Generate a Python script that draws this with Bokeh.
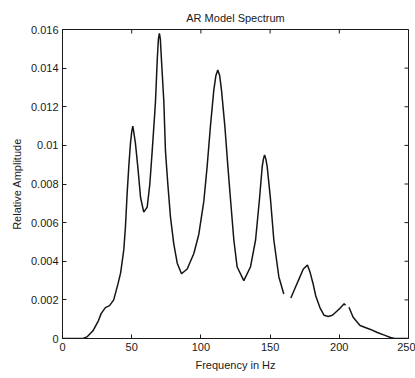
import numpy as np
from bokeh.plotting import figure
from bokeh.models import FixedTicker, Range1d
from bokeh.embed import file_html
from bokeh.resources import INLINE

# Frequency (Hz) and relative amplitude; NaN = break in the trace
freq = [0, 10, 15, 18, 22, 26, 28, 31, 34, 37, 40, 42, 44.3, 45.5, 46.7, 47.9, 49.1, 50.0,
        50.8, 51.7, 52.7, 54.4, 56.4, 58.7, 61.2, 63.1, 64.8, 66.5, 67.2, 68.5, 69.3, 70.0,
        70.7, 71.6, 73.2, 74.4, 76.1, 78.0, 80.4, 82.9, 86.0, 90.1, 94.9, 98.5, 102.1, 104.5,
        106.9, 109.3, 110.8, 112.2, 113.6, 114.9, 117.3, 119.5, 121.4, 123.8, 126.2, 131.0,
        135.8, 139.5, 142.3, 144.3, 145.2, 146.0, 146.9, 147.9, 150.3, 152.7, 156.3, 159.9,
        162.0, 165.0, 168.0, 171.0, 174.0, 177.0, 179.0, 181.0, 183.0, 186.0, 189.0, 192.0,
        195.0, 198.0, 201.0, 203.5, 204.5, 205.5, 207.0, 210.0, 215.0, 222.5, 227.5, 233.0,
        237.0, 240.0, 250.0]
amp = [0, 0, 0, 0.0001, 0.0004, 0.00093, 0.0013, 0.0016, 0.0017, 0.002, 0.0028, 0.0034,
       0.0046, 0.0058, 0.0075, 0.0089, 0.0101, 0.0107, 0.0110, 0.0106, 0.0101, 0.0089,
       0.0073, 0.00654, 0.0068, 0.008, 0.0097, 0.0115, 0.0123, 0.0145, 0.0155, 0.0158,
       0.0155, 0.0143, 0.0123, 0.0097, 0.008, 0.0063, 0.0049, 0.0039, 0.00335, 0.0036,
       0.0044, 0.0054, 0.0071, 0.0089, 0.0110, 0.01285, 0.0136, 0.0139, 0.0136, 0.01285,
       0.0110, 0.0089, 0.0072, 0.0051, 0.0037, 0.0030, 0.0037, 0.0051, 0.0072, 0.0089,
       0.0093, 0.0095, 0.0093, 0.0089, 0.0072, 0.0051, 0.0032, 0.0023,
       np.nan, 0.0021, 0.0026, 0.0031, 0.0036, 0.0038, 0.0034, 0.00285, 0.0022, 0.0016,
       0.0012, 0.00114, 0.0012, 0.0014, 0.0016, 0.0018, 0.00172, np.nan, 0.00162, 0.0011,
       0.00067, 0.00047, 0.00031, 0.00016, 0.00005, 0, 0]

x_ticks = [0, 50, 100, 150, 200, 250]
y_ticks = [0, 0.002, 0.004, 0.006, 0.008, 0.01, 0.012, 0.014, 0.016]
y_tick_labels = ["0", "0.002", "0.004", "0.006", "0.008", "0.01", "0.012", "0.014", "0.016"]

FONT = "Liberation Sans"
INK = "#1a1a1a"

x_lo, x_hi = 0, 250
y_lo, y_hi = 0, 0.016

p = figure(width=415, height=378, output_backend="svg", toolbar_location=None,
           x_range=Range1d(x_lo, x_hi), y_range=Range1d(y_lo, y_hi),
           title="AR Model Spectrum",
           min_border_left=62, min_border_right=7, min_border_top=29, min_border_bottom=40)

p.title.align = "center"
p.title.text_font = FONT
p.title.text_font_size = "11px"
p.title.text_font_style = "normal"
p.title.text_color = INK
p.title.offset = 0
p.title.standoff = 12

p.line(freq, amp, line_color="#151515", line_width=1.5)

# Mirror tick marks on top and right edges (MATLAB box style), clipped to the frame
p.scatter(x_ticks, [y_hi] * len(x_ticks), marker="dash", angle=np.pi / 2, size=8,
          line_color=INK, line_width=1)
p.scatter([x_hi] * len(y_ticks), y_ticks, marker="dash", size=8,
          line_color=INK, line_width=1)

p.xgrid.visible = False
p.ygrid.visible = False
p.background_fill_color = "white"
p.border_fill_color = "white"
p.outline_line_color = INK
p.outline_line_width = 1

p.xaxis.ticker = FixedTicker(ticks=x_ticks)
p.yaxis.ticker = FixedTicker(ticks=y_ticks)
p.yaxis.major_label_overrides = dict(zip(y_ticks, y_tick_labels))
p.xaxis.axis_label = "Frequency in Hz"
p.yaxis.axis_label = "Relative Amplitude"

for ax in (p.xaxis[0], p.yaxis[0]):
    ax.major_tick_in = 4
    ax.major_tick_out = 0
    ax.minor_tick_in = 0
    ax.minor_tick_out = 0
    ax.axis_line_color = INK
    ax.major_tick_line_color = INK
    ax.major_label_text_font = FONT
    ax.major_label_text_font_size = "11px"
    ax.major_label_text_color = INK
    ax.axis_label_text_font = FONT
    ax.axis_label_text_font_size = "11px"
    ax.axis_label_text_font_style = "normal"
    ax.axis_label_text_color = INK
    ax.major_label_standoff = 4
    ax.axis_label_standoff = 5

open("out.html", "w").write(file_html(p, INLINE))
